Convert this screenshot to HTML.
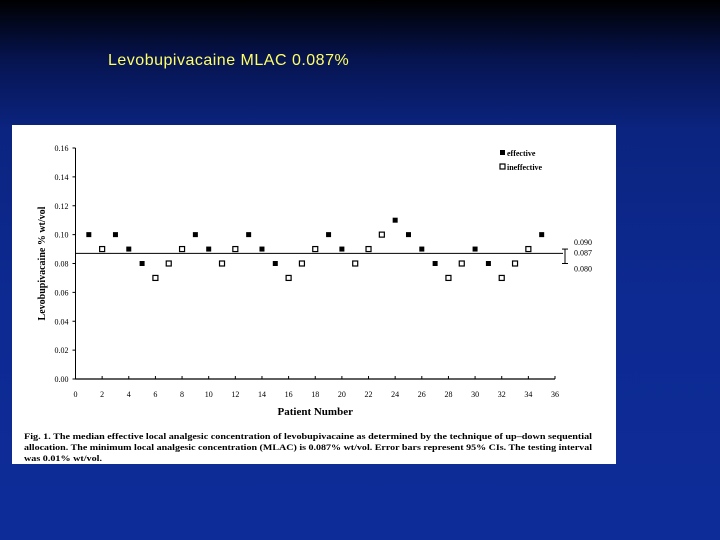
<!DOCTYPE html>
<html><head><meta charset="utf-8"><style>
html,body{margin:0;padding:0}
body{width:720px;height:540px;overflow:hidden;background:linear-gradient(#000 0px,#061450 60px,#0b2480 130px,#0d2a92 300px,#0e2c98 540px);position:relative;font-family:"Liberation Serif",serif}
#title{position:absolute;left:108px;top:52px;color:#ffff66;font:16px "Liberation Sans",sans-serif;letter-spacing:0.5px}
#panel{position:absolute;left:12px;top:125px;width:604px;height:339px;background:#fff}
</style></head><body>
<div id="title">Levobupivacaine MLAC 0.087%</div>
<div id="panel">
<svg id="chart" width="604" height="339" style="position:absolute;left:0;top:0" font-family="Liberation Serif, serif"></svg>
</div>
<script>
const patients=[1,2,3,4,5,6,7,8,9,10,11,12,13,14,15,16,17,18,19,20,21,22,23,24,25,26,27,28,29,30,31,32,33,34,35];
const concentrations=[0.10,0.09,0.10,0.09,0.08,0.07,0.08,0.09,0.10,0.09,0.08,0.09,0.10,0.09,0.08,0.07,0.08,0.09,0.10,0.09,0.08,0.09,0.10,0.11,0.10,0.09,0.08,0.07,0.08,0.09,0.08,0.07,0.08,0.09,0.10];
const effective=[1,0,1,1,1,0,0,0,1,1,0,0,1,1,1,0,0,0,1,1,0,0,0,1,1,1,1,0,0,1,1,0,0,0,1];
const xTicks=[0,2,4,6,8,10,12,14,16,18,20,22,24,26,28,30,32,34,36];
const yTicks=[0,0.02,0.04,0.06,0.08,0.10,0.12,0.14,0.16];
const mlac=0.087, ciLow=0.080, ciHigh=0.090;
const ox=12, oy=125;
const X=v=>75.5-ox+(v/36)*479.5;
const Y=v=>379-oy-(v/0.16)*231;
const svg=document.getElementById('chart');
const NS='http://www.w3.org/2000/svg';
function mk(t,a,txt){const e=document.createElementNS(NS,t);for(const k in a)e.setAttribute(k,a[k]);if(txt!==undefined)e.textContent=txt;svg.appendChild(e);return e;}
let e;
e=mk('line',{x1:X(0),y1:Y(0.16),x2:X(0),y2:Y(0),stroke:'#000','stroke-width':1});


e=mk('line',{x1:X(0),y1:Y(0),x2:X(36),y2:Y(0),stroke:'#000','stroke-width':1.3});


yTicks.forEach(v=>{
 mk('line',{x1:X(0)-3,y1:Y(v),x2:X(0),y2:Y(v),stroke:'#000'});
 e=mk('text',{x:X(0)-7,y:Y(v)+3,'text-anchor':'end','font-size':8},v.toFixed(2));
 
 
});
xTicks.forEach(v=>{
 mk('line',{x1:X(v),y1:Y(0)-3,x2:X(v),y2:Y(0),stroke:'#000'});
 e=mk('text',{x:X(v),y:Y(0)+18,'text-anchor':'middle','font-size':8},String(v));
 
 
});
e=mk('text',{x:(X(0)+X(36))/2,y:Y(0)+36,'text-anchor':'middle','font-size':11,'font-weight':'bold'},'Patient Number');


e=mk('text',{x:0,y:0,'text-anchor':'middle','font-size':10,'font-weight':'bold',transform:`translate(33,${Y(0.08)}) rotate(-90)`},'Levobupivacaine % wt/vol');


e=mk('line',{x1:X(0),y1:Y(mlac),x2:X(36)+8,y2:Y(mlac),stroke:'#000','stroke-width':1});


const ex=X(36)+10;
mk('line',{x1:ex,y1:Y(ciHigh),x2:ex,y2:Y(ciLow),stroke:'#000'});
mk('line',{x1:ex-3,y1:Y(ciHigh),x2:ex+3,y2:Y(ciHigh),stroke:'#000'});
mk('line',{x1:ex-3,y1:Y(ciLow),x2:ex+3,y2:Y(ciLow),stroke:'#000'});
[[ciHigh,'0.090',-4],[mlac,'0.087',2],[ciLow,'0.080',8]].forEach(([v,t,d])=>{
 e=mk('text',{x:ex+9,y:Y(v)+d,'font-size':8},t);
 
 
});
patients.forEach((p,i)=>{
 const c=concentrations[i], eff=effective[i];
 e=mk('rect',{x:X(p)-2.5,y:Y(c)-2.5,width:5,height:5,fill:eff?'#000':'#fff',stroke:'#000','stroke-width':eff?0:1.2});
 
 
});
e=mk('rect',{x:488,y:25,width:5,height:5,fill:'#000'});
e=mk('text',{x:495,y:31,'font-size':8,'font-weight':'bold'},'effective');


mk('rect',{x:488,y:39,width:5,height:5,fill:'#fff',stroke:'#000','stroke-width':1.2});
e=mk('text',{x:495,y:45,'font-size':8,'font-weight':'bold'},'ineffective');


const cap=['Fig. 1. The median effective local analgesic concentration of levobupivacaine as determined by the technique of up–down sequential','allocation. The minimum local analgesic concentration (MLAC) is 0.087% wt/vol. Error bars represent 95% CIs. The testing interval','was 0.01% wt/vol.'];
cap.forEach((t,i)=>{
 e=mk('text',{x:12,y:314+i*11,'font-size':8.2,'font-weight':'bold',textLength:i<2?568:78,lengthAdjust:'spacingAndGlyphs'},t);
 
 
});
</script>
</body></html>
